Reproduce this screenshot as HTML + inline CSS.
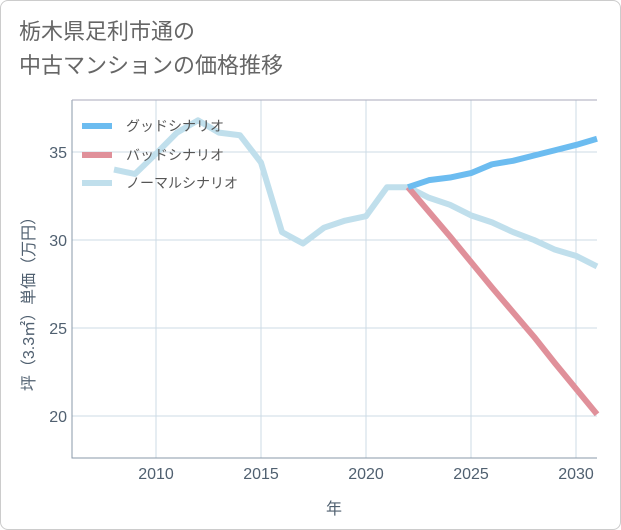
<!DOCTYPE html>
<html><head><meta charset="utf-8"><style>
body{margin:0;background:#fff;}
#wrap{position:relative;width:619px;height:528px;border:1px solid #ccc;border-radius:8px;background:#fff;overflow:hidden;font-family:"Liberation Sans","Noto Sans CJK JP",sans-serif;}
#title{position:absolute;left:18px;top:14px;font-size:22px;line-height:34px;color:#666;}
</style></head><body>
<div id="wrap">
<div id="title">栃木県足利市通の<br>中古マンションの価格推移</div>
<svg id="chart" width="621" height="530" style="position:absolute;left:-1px;top:-1px"></svg>
</div>
<script>
const years=[2008,2009,2010,2011,2012,2013,2014,2015,2016,2017,2018,2019,2020,2021,2022];
const normalPast=[34.0,33.75,34.9,36.1,36.8,36.1,35.95,34.4,30.45,29.8,30.7,31.1,31.35,33.0,33.0];
const futureYears=[2022,2023,2024,2025,2026,2027,2028,2029,2030,2031];
const goodVals=[33.0,33.4,33.55,33.8,34.3,34.5,34.8,35.1,35.4,35.75];
const badVals=[33.0,31.6,30.2,28.75,27.3,25.9,24.5,23.0,21.55,20.1];
const normalFuture=[33.0,32.4,32.0,31.4,31.0,30.45,30.0,29.45,29.1,28.5];
const xTicks=[2010,2015,2020,2025,2030];
const yTicks=[20,25,30,35];
const L=72,R=597,T=100,B=458;
const X=v=>L+(v-2006)/(2031-2006)*(R-L);
const Y=v=>416-(v-20)*17.6;
const svg=document.getElementById('chart');
const NS='http://www.w3.org/2000/svg';
function mk(t,a){const e=document.createElementNS(NS,t);for(const k in a)e.setAttribute(k,a[k]);svg.appendChild(e);return e;}
xTicks.forEach(t=>{const l=mk('line',{x1:X(t),x2:X(t),y1:T,y2:B,stroke:'#ccdbe6','stroke-width':1});

const tx=mk('text',{x:X(t),y:B+21,'text-anchor':'middle','font-size':16,fill:'#506070'});tx.textContent=t;
});
yTicks.forEach(t=>{const l=mk('line',{x1:L,x2:R,y1:Y(t),y2:Y(t),stroke:'#ccdbe6','stroke-width':1});

const tx=mk('text',{x:L-5,y:Y(t)+6,'text-anchor':'end','font-size':16,fill:'#506070'});tx.textContent=t;
});
const ax=mk('path',{d:`M${L} ${T}V${B}H${R}`,fill:'none',stroke:'#8899aa','stroke-width':1});

const tp=mk('line',{x1:L,x2:R,y1:T,y2:T,stroke:'#aab','stroke-width':1});

function line(xs,vs,c,name){const p=mk('polyline',{points:xs.map((x,i)=>X(x)+','+Y(vs[i])).join(' '),fill:'none',stroke:c,'stroke-width':6,'stroke-linejoin':'round'});
}
line(years,normalPast,'#c0dfec','normal-line-past');
line(futureYears,normalFuture,'#c0dfec','normal-line-future');
line(futureYears,badVals,'#e0909a','bad-line');
line(futureYears,goodVals,'#6cbcf0','good-line');
const leg=[['グッドシナリオ','#6cbcf0',126],['バッドシナリオ','#e0909a',155],['ノーマルシナリオ','#c0dfec',183]];
leg.forEach(g=>{const l=mk('line',{x1:82,x2:112,y1:g[2],y2:g[2],stroke:g[1],'stroke-width':6});

const t=mk('text',{x:126,y:g[2]+5,'font-size':14,fill:'#555'});t.textContent=g[0];
});
const xt=mk('text',{x:334,y:514,'text-anchor':'middle','font-size':16,fill:'#506070'});xt.textContent='年';

const yt=mk('text',{x:0,y:0,'text-anchor':'middle','font-size':16,fill:'#506070',transform:'translate(34,300) rotate(-90)'});yt.textContent='坪（3.3㎡）単価（万円）';

</script>
</body></html>
